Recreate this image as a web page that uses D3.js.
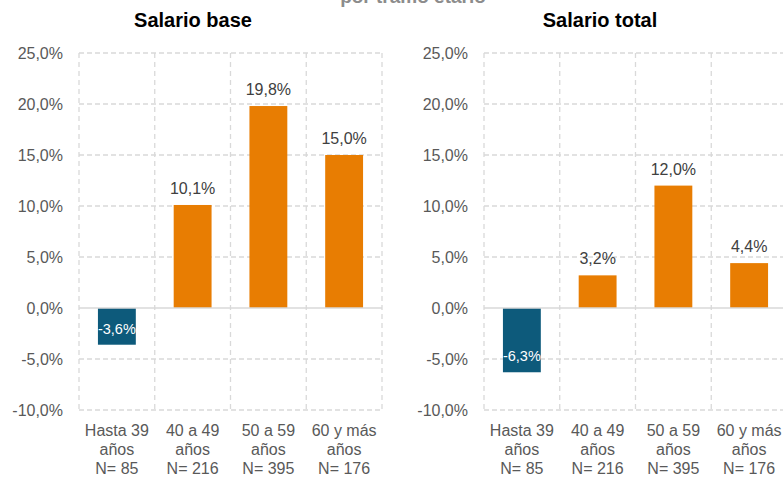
<!DOCTYPE html>
<html>
<head>
<meta charset="utf-8">
<script src="https://cdn.jsdelivr.net/npm/d3@7"></script>
<style>
  html, body { margin: 0; padding: 0; background: #fff; }
  svg { display: block; }
  text { font-family: "Liberation Sans", Arial, sans-serif; }
</style>
</head>
<body>
<script>
// Age groups (three-line axis labels)
const groupLine1 = ["Hasta 39", "40 a 49", "50 a 59", "60 y más"];
const groupLine2 = ["años", "años", "años", "años"];
const groupN = ["N= 85", "N= 216", "N= 395", "N= 176"];

// Percentage change by age group
const salarioBase = [-3.6, 10.1, 19.8, 15.0];
const salarioTotal = [-6.3, 3.2, 12.0, 4.4];

// Y axis ticks (%)
const yTicks = [-10, -5, 0, 5, 10, 15, 20, 25];

const panelTitles = ["Salario base", "Salario total"];
const subtitle = "por tramo etario";

const W = 783, H = 477;
const orange = "#E87D02", blue = "#0D5A7B";
const gridColor = "#d9d9d9";
const fmt = v => d3.format(".1f")(v).replace(".", ",").replace("\u2212", "-") + "%";

const svg = d3.select("body").append("svg").attr("width", W).attr("height", H);

// main title line, mostly above the top edge
svg.append("text")
  .attr("x", 413).attr("y", 3)
  .attr("text-anchor", "middle")
  .attr("font-size", 19).attr("font-weight", "bold")
  .attr("fill", "#8c8c8c")
  .text(subtitle);

const y = d3.scaleLinear().domain([-10, 25]).range([410, 53]);

const panels = [
  { title: panelTitles[0], values: salarioBase, left: 79, titleX: 193 },
  { title: panelTitles[1], values: salarioTotal, left: 484, titleX: 600 }
];

panels.forEach(p => {
  const step = 75.75;
  const x = d3.scaleBand().domain(groupLine1)
    .range([p.left, p.left + step * groupLine1.length])
    .paddingInner(0.5).paddingOuter(0.25);
  const right = p.left + step * groupLine1.length;
  const g = svg.append("g");

  // title
  g.append("text")
    .attr("x", p.titleX).attr("y", 27)
    .attr("text-anchor", "middle")
    .attr("font-family", "'Liberation Sans Narrow', 'Arial Narrow', sans-serif")
    .attr("font-size", 20).attr("font-weight", "bold")
    .attr("fill", "#000")
    .text(p.title);

  // horizontal gridlines (dashed) except zero
  g.selectAll(".hgrid").data(yTicks.filter(t => t !== 0)).join("line")
    .attr("x1", p.left).attr("x2", right)
    .attr("y1", d => y(d)).attr("y2", d => y(d))
    .attr("stroke", gridColor).attr("stroke-width", 1.3)
    .attr("stroke-dasharray", "5,3");

  // vertical gridlines at category boundaries
  g.selectAll(".vgrid").data(d3.range(groupLine1.length + 1)).join("line")
    .attr("x1", i => p.left + i * step).attr("x2", i => p.left + i * step)
    .attr("y1", y(25)).attr("y2", y(-10))
    .attr("stroke", gridColor).attr("stroke-width", 1.3)
    .attr("stroke-dasharray", "5,4");

  // y axis labels
  const yAxis = d3.axisLeft(y).tickValues(yTicks).tickFormat(fmt).tickSize(0).tickPadding(16);
  const ya = g.append("g").attr("transform", `translate(${p.left},0)`).call(yAxis);
  ya.select(".domain").remove();
  ya.selectAll("text")
    .attr("font-size", 16).attr("fill", "#595959")
    .attr("font-family", "'Liberation Sans', Arial, sans-serif");

  // bars
  g.selectAll(".bar").data(p.values).join("rect")
    .attr("x", (d, i) => x(groupLine1[i]))
    .attr("width", x.bandwidth())
    .attr("y", d => y(Math.max(0, d)))
    .attr("height", d => Math.abs(y(d) - y(0)))
    .attr("fill", d => d < 0 ? blue : orange);

  // zero line
  g.append("line")
    .attr("x1", p.left).attr("x2", right)
    .attr("y1", y(0)).attr("y2", y(0))
    .attr("stroke", gridColor).attr("stroke-width", 1.6);

  // value labels: above positive bars, inside the end of negative bars
  g.selectAll(".val").data(p.values).join("text")
    .attr("x", (d, i) => x(groupLine1[i]) + x.bandwidth() / 2)
    .attr("y", d => y(d) - 11)
    .attr("text-anchor", "middle")
    .attr("font-size", d => d < 0 ? 14.5 : 16)
    .attr("fill", d => d < 0 ? "#fff" : "#404040")
    .text(fmt);

  // category labels
  const cat = g.selectAll(".cat").data(groupLine1).join("text")
    .attr("text-anchor", "middle")
    .attr("font-size", 16).attr("fill", "#595959");
  [groupLine1, groupLine2, groupN].forEach((lines, li) => {
    cat.append("tspan")
      .attr("x", d => x(d) + x.bandwidth() / 2)
      .attr("y", 436 + li * 19)
      .text((d, i) => lines[i]);
  });
});
</script>
</body>
</html>
